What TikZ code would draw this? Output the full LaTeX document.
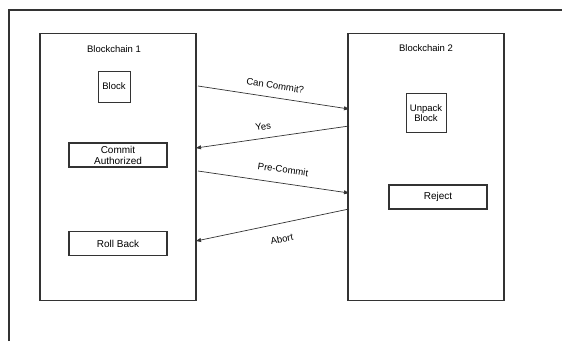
\documentclass[tikz,border=0pt]{standalone}
\usepackage{fontspec}
\setmainfont{Liberation Sans}
\usetikzlibrary{arrows.meta}
\definecolor{ink}{HTML}{333333}
\tikzset{
  chain/.style={draw=ink, line width=1.4pt, minimum width=156pt, minimum height=267pt, inner sep=0pt},
  thinbox/.style={draw=ink, line width=0.8pt, align=center, inner sep=0pt, font=\fontsize{9.5}{10.5}\selectfont},
  actbox/.style={draw=ink, line width=1.5pt, minimum width=98pt, minimum height=24pt, align=center, inner sep=0pt, font=\fontsize{10}{11}\selectfont},
  title/.style={font=\fontsize{9.5}{11}\selectfont},
  msg/.style={draw=ink, line width=0.7pt, -{Triangle[length=5pt,width=4pt]}},
  lbl/.style={font=\fontsize{9.5}{11}\selectfont, sloped, inner sep=0pt}
}
\begin{document}
\begin{tikzpicture}[x=1pt,y=-1pt]
  \useasboundingbox (0,0) rectangle (562,341);
  % outer frame (open at right and bottom)
  \draw[ink, line width=1.2pt] (9,341) -- (9,10) -- (562,10);

  % the two chains
  \node[chain] (bc1) at (118,167) {};
  \node[chain] (bc2) at (426,167) {};
  \node[title] (t1) at (114,49) {Blockchain 1};
  \node[title] (t2) at (426,48) {Blockchain 2};

  % steps inside the chains
  \node[thinbox, minimum width=32pt, minimum height=31pt] (block) at (114,86.5) {Block};
  \node[thinbox, minimum width=40pt, minimum height=39pt] (unpack) at (426,113) {Unpack\\Block};
  \node[actbox] (commit) at (118,155) {Commit\\Authorized};
  \node[actbox] (roll) at (118,243.5) {Roll Back};
  \node[actbox] (reject) at (438,197) {Reject};

  % message end points on the chain borders
  \coordinate (a1) at (198,86);   \coordinate (b1) at (349,109);
  \coordinate (b2) at (349,126);  \coordinate (a2) at (196,148);
  \coordinate (a3) at (198,171);  \coordinate (b3) at (349,193);
  \coordinate (b4) at (349,209);  \coordinate (a4) at (196,241);

  % messages between the chains
  \draw[msg] (a1) -- node[lbl, above=8pt, pos=0.5] {Can Commit?} (b1);
  \draw[msg] (b2) -- node[lbl, above=8pt, pos=0.55] {Yes} (a2);
  \draw[msg] (a3) -- node[lbl, above=10pt, pos=0.55] {Pre-Commit} (b3);
  \draw[msg] (b4) -- node[lbl, below=12pt, pos=0.46] {Abort} (a4);
\end{tikzpicture}
\end{document}
